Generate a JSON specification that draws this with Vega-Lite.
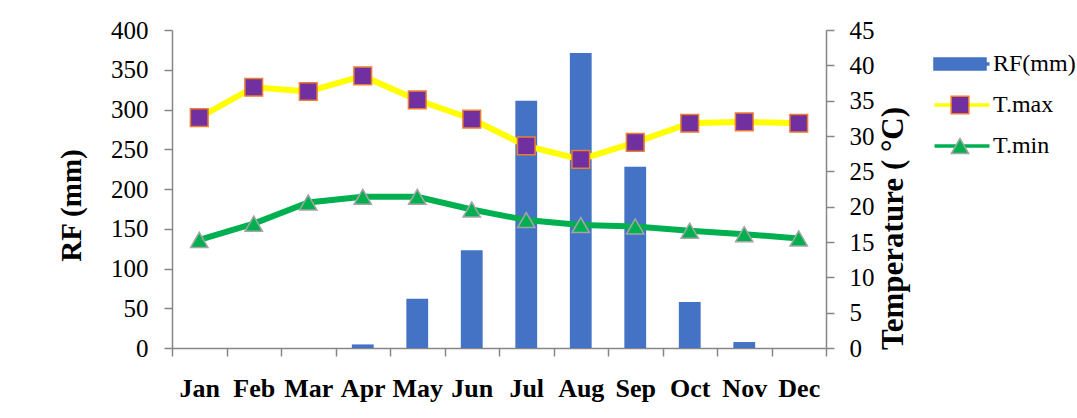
{
  "$schema": "https://vega.github.io/schema/vega-lite/v6.json",
  "autosize": "none",
  "width": 654,
  "height": 318,
  "padding": {"left": 172, "top": 30, "right": 251, "bottom": 70},
  "background": "white",
  "config": {
    "view": {"stroke": null},
    "font": "'Liberation Serif', 'Times New Roman', serif",
    "axis": {
      "domainColor": "#868686",
      "domainWidth": 1.5,
      "tickColor": "#868686",
      "tickWidth": 1.5,
      "tickSize": 8,
      "grid": false,
      "labelColor": "black",
      "labelFont": "'Liberation Serif', 'Times New Roman', serif",
      "labelFontSize": 25,
      "titleColor": "black",
      "titleFont": "'Liberation Serif', 'Times New Roman', serif",
      "titleFontWeight": "bold"
    },
    "legend": {
      "labelFont": "'Liberation Serif', 'Times New Roman', serif"
    }
  },
  "data": {
    "values": [
      {"month": "Jan", "series": "RF(mm)", "value": 0},
      {"month": "Feb", "series": "RF(mm)", "value": 0},
      {"month": "Mar", "series": "RF(mm)", "value": 0},
      {"month": "Apr", "series": "RF(mm)", "value": 4.5},
      {"month": "May", "series": "RF(mm)", "value": 62},
      {"month": "Jun", "series": "RF(mm)", "value": 123},
      {"month": "Jul", "series": "RF(mm)", "value": 311},
      {"month": "Aug", "series": "RF(mm)", "value": 371},
      {"month": "Sep", "series": "RF(mm)", "value": 228},
      {"month": "Oct", "series": "RF(mm)", "value": 58},
      {"month": "Nov", "series": "RF(mm)", "value": 7.5},
      {"month": "Dec", "series": "RF(mm)", "value": 0},
      {"month": "Jan", "series": "T.max", "value": 32.6},
      {"month": "Feb", "series": "T.max", "value": 36.9},
      {"month": "Mar", "series": "T.max", "value": 36.3},
      {"month": "Apr", "series": "T.max", "value": 38.5},
      {"month": "May", "series": "T.max", "value": 35.1},
      {"month": "Jun", "series": "T.max", "value": 32.4},
      {"month": "Jul", "series": "T.max", "value": 28.6},
      {"month": "Aug", "series": "T.max", "value": 26.7},
      {"month": "Sep", "series": "T.max", "value": 29.1},
      {"month": "Oct", "series": "T.max", "value": 31.8},
      {"month": "Nov", "series": "T.max", "value": 32.0},
      {"month": "Dec", "series": "T.max", "value": 31.8},
      {"month": "Jan", "series": "T.min", "value": 15.3},
      {"month": "Feb", "series": "T.min", "value": 17.6},
      {"month": "Mar", "series": "T.min", "value": 20.6},
      {"month": "Apr", "series": "T.min", "value": 21.4},
      {"month": "May", "series": "T.min", "value": 21.4},
      {"month": "Jun", "series": "T.min", "value": 19.6},
      {"month": "Jul", "series": "T.min", "value": 18.1},
      {"month": "Aug", "series": "T.min", "value": 17.4},
      {"month": "Sep", "series": "T.min", "value": 17.2},
      {"month": "Oct", "series": "T.min", "value": 16.6},
      {"month": "Nov", "series": "T.min", "value": 16.1},
      {"month": "Dec", "series": "T.min", "value": 15.5}
    ]
  },
  "encoding": {
    "x": {
      "field": "month",
      "type": "nominal",
      "sort": ["Jan", "Feb", "Mar", "Apr", "May", "Jun", "Jul", "Aug", "Sep", "Oct", "Nov", "Dec"],
      "scale": {"paddingInner": 0, "paddingOuter": 0},
      "axis": {
        "title": null,
        "labelAngle": 0,
        "labelFontWeight": "bold",
        "labelFontSize": 26,
        "labelPadding": 19,
        "tickBand": "extent"
      }
    }
  },
  "layer": [
    {
      "transform": [{"filter": "datum.series === 'RF(mm)'"}],
      "mark": {"type": "bar", "width": {"band": 0.4}},
      "encoding": {
        "y": {
          "field": "value",
          "type": "quantitative",
          "scale": {"domain": [0, 400]},
          "axis": {
            "orient": "left",
            "values": [0, 50, 100, 150, 200, 250, 300, 350, 400],
            "title": "RF (mm)",
            "titleFontSize": 29,
            "titleAngle": 270,
            "titleAlign": "center",
            "titleBaseline": "middle",
            "titleX": -101,
            "titleY": 175,
            "labelPadding": 16
          }
        },
        "color": {
          "field": "series",
          "type": "nominal",
          "scale": {"domain": ["RF(mm)", "T.max", "T.min"], "range": ["#4472C4", "#FFFF00", "#00B050"]},
          "legend": {
            "orient": "none",
            "legendX": 778,
            "legendY": 22,
            "title": null,
            "padding": 0,
            "symbolType": "M-2.75,-0.17H2.75V0.17H-2.75Z",
            "symbolSize": 400,
            "symbolStrokeWidth": 0,
            "labelFontSize": 24,
            "labelColor": "black",
            "labelOffset": 19,
            "rowPadding": 17
          }
        }
      }
    },
    {
      "transform": [{"filter": "datum.series !== 'RF(mm)'"}],
      "encoding": {
        "y": {
          "field": "value",
          "type": "quantitative",
          "scale": {"domain": [0, 45]},
          "axis": {
            "orient": "right",
            "values": [0, 5, 10, 15, 20, 25, 30, 35, 40, 45],
            "title": "Temperature ( °C)",
            "titleFontSize": 31,
            "titleAngle": 270,
            "titleAlign": "center",
            "titleBaseline": "middle",
            "titleX": 67,
            "titleY": 198,
            "labelPadding": 15
          }
        }
      },
      "layer": [
        {
          "mark": {"type": "line", "strokeWidth": 6},
          "encoding": {
            "color": {
              "field": "series",
              "type": "nominal",
              "scale": {"domain": ["RF(mm)", "T.max", "T.min"], "range": ["#4472C4", "#FFFF00", "#00B050"]},
              "legend": null
            }
          }
        },
        {
          "mark": {"type": "point", "filled": true, "opacity": 1, "strokeWidth": 1.5},
          "encoding": {
            "shape": {
              "field": "series",
              "type": "nominal",
              "scale": {"domain": ["RF(mm)", "T.max", "T.min", "zz"], "range": ["M-2.89,-0.67H2.89V0.67H-2.89Z", "square", "triangle-up", "circle"]},
              "legend": {"orient": "none", "legendX": 776, "legendY": 22, "title": null, "padding": 0, "labelFontSize": 24, "labelOpacity": 0, "labelOffset": 19, "rowPadding": 17}
            },
            "fill": {
              "field": "series",
              "type": "nominal",
              "scale": {"domain": ["RF(mm)", "T.max", "T.min", "zz"], "range": ["#4472C4", "#7030A0", "#00B050", "transparent"]},
              "legend": {"orient": "none", "legendX": 776, "legendY": 22, "title": null, "padding": 0, "labelFontSize": 24, "labelOpacity": 0, "labelOffset": 19, "rowPadding": 17}
            },
            "stroke": {
              "field": "series",
              "type": "nominal",
              "scale": {"domain": ["RF(mm)", "T.max", "T.min", "zz"], "range": ["#4472C4", "#ED7D31", "#A5A5A5", "transparent"]},
              "legend": {"orient": "none", "legendX": 776, "legendY": 22, "title": null, "padding": 0, "labelFontSize": 24, "labelOpacity": 0, "labelOffset": 19, "rowPadding": 17}
            },
            "size": {
              "field": "series",
              "type": "ordinal",
              "scale": {"domain": ["RF(mm)", "T.max", "T.min", "zz"], "range": [324, 289, 576, 10]},
              "legend": {"orient": "none", "legendX": 776, "legendY": 22, "title": null, "padding": 0, "labelFontSize": 24, "labelOpacity": 0, "labelOffset": 19, "rowPadding": 17}
            }
          }
        }
      ]
    }
  ],
  "resolve": {"scale": {"y": "independent"}}
}
